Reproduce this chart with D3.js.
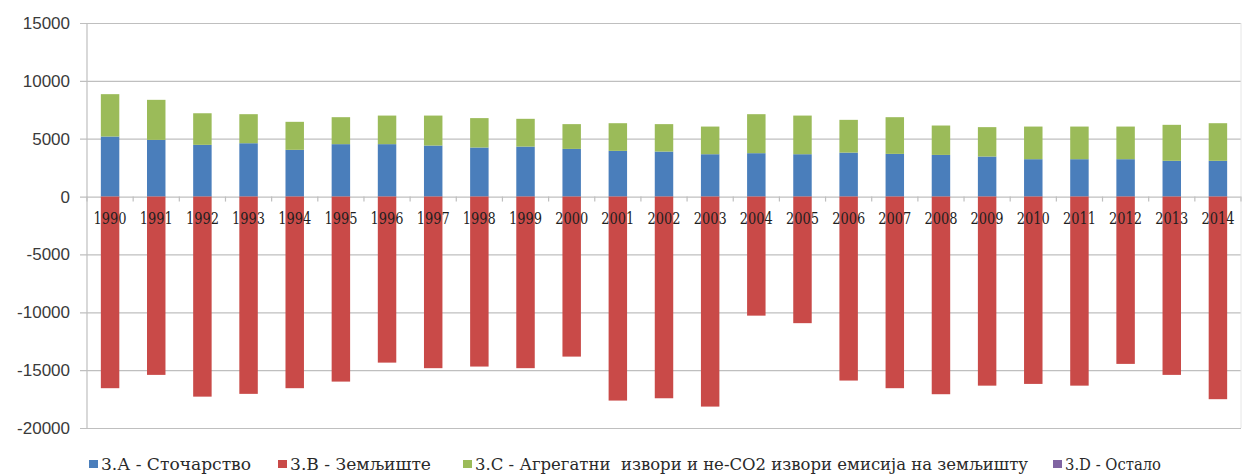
<!DOCTYPE html>
<html>
<head>
<meta charset="utf-8">
<script src="https://cdn.jsdelivr.net/npm/d3@7"></script>
<style>
  html, body { margin: 0; padding: 0; background: #ffffff; }
  svg { display: block; }
</style>
</head>
<body>
<svg id="chart" width="1244" height="474"></svg>
<script>
// Years on the category axis
const years = [1990, 1991, 1992, 1993, 1994, 1995, 1996, 1997, 1998, 1999,
               2000, 2001, 2002, 2003, 2004, 2005, 2006, 2007, 2008, 2009,
               2010, 2011, 2012, 2013, 2014];

// 3.A - livestock (Gg CO2-eq)
const livestock = [5190, 4900, 4470, 4610, 4040, 4530, 4530, 4410, 4240, 4320,
                   4120, 3950, 3890, 3660, 3750, 3660, 3800, 3690, 3600, 3460,
                   3230, 3230, 3230, 3090, 3090];

// 3.B - land (net removals)
const land = [-16560, -15410, -17290, -17050, -16560, -15990, -14350, -14830, -14690, -14830,
              -13830, -17630, -17430, -18150, -10290, -10940, -15900, -16560, -17080, -16340,
              -16190, -16340, -14460, -15410, -17510];

// 3.C - aggregate sources and non-CO2 emissions on land
const aggregate = [3660, 3460, 2730, 2510, 2420, 2330, 2470, 2590, 2540, 2400,
                   2140, 2390, 2370, 2390, 3370, 3340, 2830, 3170, 2540, 2540,
                   2820, 2820, 2820, 3110, 3250];

// 3.D - other
const other = [0, 0, 0, 0, 0, 0, 0, 0, 0, 0,
               0, 0, 0, 0, 0, 0, 0, 0, 0, 0,
               0, 0, 0, 0, 0];

const yTicks = [-20000, -15000, -10000, -5000, 0, 5000, 10000, 15000];

const seriesNames = ["3.А - Сточарство", "3.В - Земљиште",
                     "3.С - Агрегатни  извори и не-CO2 извори емисија на земљишту",
                     "3.D - Остало"];
const seriesColors = ["#4a7ebb", "#c94a48", "#9bbb59", "#8064a2"];

const SERIF = "'DejaVu Serif', 'Liberation Serif', 'Times New Roman', serif";
const SANS = "'Liberation Sans', Arial, sans-serif";

const keys = ["A", "B", "C", "D"];
const rows = years.map((yr, i) => ({
  year: yr, A: livestock[i], B: land[i], C: aggregate[i], D: other[i]
}));

const svg = d3.select("#chart");
const plot = { left: 87, right: 1241, top: 23, bottom: 428 };

const x = d3.scaleBand()
  .domain(years)
  .range([plot.left, plot.right])
  .paddingInner(0.6)
  .paddingOuter(0.3);

const y = d3.scaleLinear()
  .domain([-20000, 15000])
  .range([plot.bottom, plot.top]);

// Horizontal gridlines and value labels
const yAxis = svg.append("g")
  .attr("transform", `translate(${plot.left - 7},0)`)
  .call(d3.axisLeft(y)
    .tickValues(yTicks)
    .tickFormat(d => String(d))
    .tickSize(-(plot.right - plot.left + 7))
    .tickPadding(10));
yAxis.attr("font-family", SANS).attr("font-size", 17);
yAxis.select(".domain").remove();
yAxis.selectAll(".tick line").attr("stroke", "#bfbfbf").attr("stroke-width", 1.2);
yAxis.selectAll(".tick text").attr("fill", "#3a3a3a");

// Vertical axis line and right frame edge
svg.append("line")
  .attr("x1", plot.left).attr("x2", plot.left)
  .attr("y1", plot.top).attr("y2", plot.bottom)
  .attr("stroke", "#bfbfbf").attr("stroke-width", 1.2);
svg.append("line")
  .attr("x1", plot.right).attr("x2", plot.right)
  .attr("y1", plot.top).attr("y2", plot.bottom)
  .attr("stroke", "#e6e6e6").attr("stroke-width", 1);

// Stacked bars (positive parts up, negative parts down)
const stacked = d3.stack().keys(keys).offset(d3.stackOffsetDiverging)(rows);

svg.append("g")
  .selectAll("g")
  .data(stacked)
  .join("g")
    .attr("fill", (d, i) => seriesColors[i])
  .selectAll("rect")
  .data(d => d)
  .join("rect")
    .attr("x", d => x(d.data.year))
    .attr("width", x.bandwidth())
    .attr("y", d => y(Math.max(d[0], d[1])))
    .attr("height", d => Math.abs(y(d[0]) - y(d[1])));

// Category boundary ticks on the zero line
const step = x.step();
const gap = (step - x.bandwidth()) / 2;
svg.append("g")
  .selectAll("line")
  .data(years.concat([null]))
  .join("line")
    .attr("x1", d => d === null ? plot.right : x(d) - gap)
    .attr("x2", d => d === null ? plot.right : x(d) - gap)
    .attr("y1", y(0))
    .attr("y2", y(0) + 5)
    .attr("stroke", "#bfbfbf").attr("stroke-width", 1.2);

// Year labels, drawn over the bars just below the zero line
const xAxis = svg.append("g")
  .attr("transform", `translate(0,${y(0)})`)
  .call(d3.axisBottom(x).tickSize(0).tickPadding(16));
xAxis.attr("font-family", SERIF).attr("font-size", 16);
xAxis.select(".domain").remove();
xAxis.selectAll(".tick text")
  .attr("fill", "#1f1f1f")
  .attr("textLength", 33)
  .attr("lengthAdjust", "spacingAndGlyphs");

// Legend
const legendX = [89, 278, 463, 1053];
const legendW = [150, 141, 553, 96];
const legend = svg.append("g")
  .attr("transform", "translate(0,470)")
  .attr("font-family", SERIF)
  .attr("font-size", 16);
seriesNames.forEach((name, i) => {
  const g = legend.append("g").attr("transform", `translate(${legendX[i]},0)`);
  g.append("rect")
    .attr("x", 0).attr("y", -10)
    .attr("width", 9).attr("height", 8)
    .attr("fill", seriesColors[i]);
  g.append("text")
    .attr("x", 12).attr("y", 0)
    .attr("fill", "#2a2a2a")
    .style("white-space", "pre")
    .attr("textLength", legendW[i])
    .attr("lengthAdjust", "spacingAndGlyphs")
    .text(name);
});
</script>
</body>
</html>
